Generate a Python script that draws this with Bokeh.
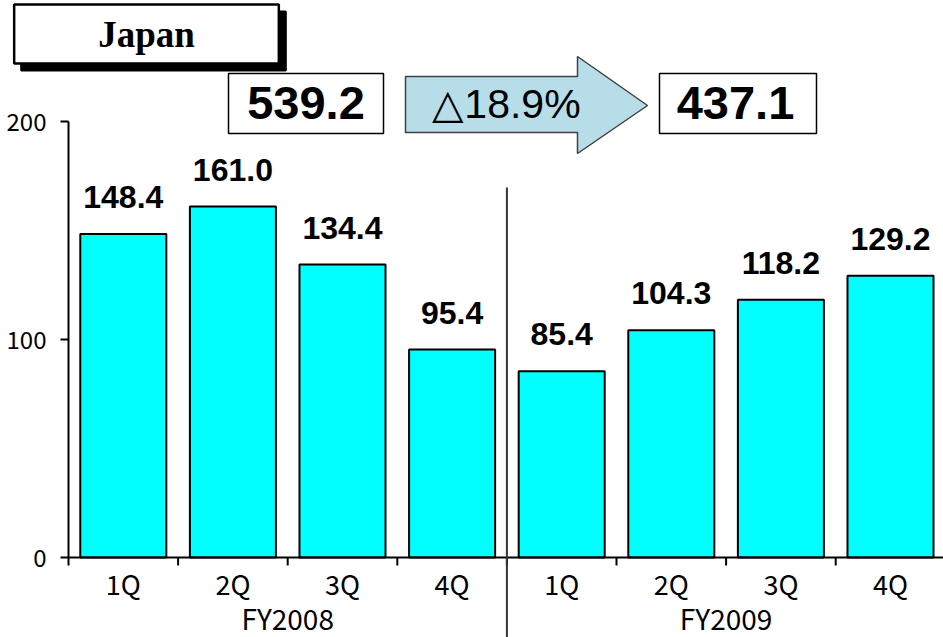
from bokeh.plotting import figure
from bokeh.models import Range1d, FixedTicker, Label, ColumnDataSource
from bokeh.core.properties import value
from bokeh.embed import file_html
from bokeh.resources import INLINE

# ---- data ----
fiscal_years = ["FY2008", "FY2009"]
quarters = ["1Q", "2Q", "3Q", "4Q"]
sales = [148.4, 161.0, 134.4, 95.4, 85.4, 104.3, 118.2, 129.2]
y_ticks = [0, 100, 200]
total_fy2008 = "539.2"
total_fy2009 = "437.1"
change_label = "\u25b318.9%"
region = "Japan"

# ---- geometry helpers (pixel layout of the page) ----
W, H = 943, 637
LEFT = 68          # pixel column of the y-axis line
UNIT_X = 109.6     # px per category
Y0_PX = 557        # pixel row of value 0
UNIT_Y = 2.18      # px per value unit

x_start = -LEFT / UNIT_X
x_end = (W - LEFT) / UNIT_X
y_start = -(H - Y0_PX) / UNIT_Y
y_end = Y0_PX / UNIT_Y


def X(px):
    return (px - LEFT) / UNIT_X


def Y(py):
    return (Y0_PX - py) / UNIT_Y


nq = len(quarters)
n = len(fiscal_years) * nq
centers = [i + 0.5 for i in range(n)]
cat_labels = [q for _ in fiscal_years for q in quarters]
group_centers = [g * nq + nq / 2 for g in range(len(fiscal_years))]
boundaries = list(range(n + 1))

p = figure(width=W, height=H,
           x_range=Range1d(x_start, x_end), y_range=Range1d(y_start, y_end),
           x_axis_type=None, output_backend="svg", toolbar_location=None,
           min_border_left=0, min_border_right=0,
           min_border_top=0, min_border_bottom=0)
p.outline_line_color = None
p.grid.visible = False
p.background_fill_color = "white"
p.border_fill_color = "white"

ax = p.yaxis[0]
ax.fixed_location = 0
ax.ticker = FixedTicker(ticks=y_ticks)
ax.bounds = (min(y_ticks), max(y_ticks))
ax.major_tick_in = 0
ax.major_tick_out = 8
ax.minor_tick_line_color = None
ax.axis_line_width = 2
ax.major_tick_line_width = 2
ax.axis_line_color = "black"
ax.major_tick_line_color = "black"
ax.major_label_text_font = "Noto Sans CJK JP"
ax.major_label_text_font_size = "24px"
ax.major_label_text_color = "black"
ax.major_label_standoff = 14

# bars
src = ColumnDataSource(dict(x=centers, top=sales,
                            lab=[f"{v:.1f}" for v in sales],
                            ly=[v + 37 / UNIT_Y for v in sales]))
p.vbar(x="x", top="top", bottom=0, width=0.785, source=src,
       fill_color="#00FFFF", line_color="black", line_width=2)
p.text(x="x", y="ly", text="lab", source=src, text_align="center",
       text_baseline="middle", text_font=value("Liberation Sans"),
       text_font_style="bold", text_font_size="32px", text_color="black")

# x axis line + ticks at category boundaries
p.segment(x0=[0], y0=[0], x1=[x_end], y1=[0], line_color="black", line_width=2)
p.segment(x0=boundaries, y0=[0] * len(boundaries), x1=boundaries,
          y1=[Y(565)] * len(boundaries), line_color="black", line_width=2)

# category and group labels
p.text(x=centers, y=[Y(583)] * n, text=cat_labels, text_align="center",
       text_baseline="middle", text_font=value("Noto Sans CJK JP"),
       text_font_size="27px", text_color="black")
p.text(x=group_centers, y=[Y(617)] * len(group_centers), text=fiscal_years,
       text_align="center", text_baseline="middle",
       text_font=value("Noto Sans CJK JP"), text_font_size="28px",
       text_color="black")

# group separator
seps = [g * nq for g in range(1, len(fiscal_years))]
p.segment(x0=seps, y0=[Y(187)] * len(seps), x1=seps, y1=[y_start] * len(seps),
          line_color="#333333", line_width=2)

# total boxes
p.quad(left=[X(228), X(659)], right=[X(383), X(816)],
       top=[Y(73), Y(73)], bottom=[Y(133), Y(133)],
       fill_color="white", line_color="black", line_width=1.5)
p.text(x=[X(305.5), X(735)], y=[Y(102), Y(102)],
       text=[total_fy2008, total_fy2009], text_align="center",
       text_baseline="middle", text_font=value("Liberation Sans"),
       text_font_style="bold", text_font_size="47px", text_color="black")

# arrow
ax_px = [405, 577, 577, 647, 577, 577, 405]
ay_px = [76, 76, 56, 105, 153, 132, 132]
p.patch(x=[X(v) for v in ax_px], y=[Y(v) for v in ay_px],
        fill_color="#B7DEE8", line_color="#404040", line_width=1.5)
p.text(x=[X(506)], y=[Y(103)], text=[change_label], text_align="center",
       text_baseline="middle", text_font=value("Liberation Sans"),
       text_font_size="41px", text_color="black")

# region title box with shadow
pad = dict(left=84, right=84, top=9, bottom=9)
shadow = Label(x=146 + 7, y=33.5 + 7, x_units="canvas", y_units="canvas",
               text=region, text_align="center", text_baseline="middle",
               text_font="Liberation Serif", text_font_style="bold",
               text_font_size="37px", text_color="black",
               background_fill_color="black", border_line_color="black",
               border_line_width=2, padding=pad)
title = Label(x=146, y=33.5, x_units="canvas", y_units="canvas",
              text=region, text_align="center", text_baseline="middle",
              text_font="Liberation Serif", text_font_style="bold",
              text_font_size="37px", text_color="black",
              background_fill_color="white", border_line_color="black",
              border_line_width=2.5, padding=pad)
p.add_layout(shadow)
p.add_layout(title)

open("out.html", "w").write(file_html(p, INLINE))
